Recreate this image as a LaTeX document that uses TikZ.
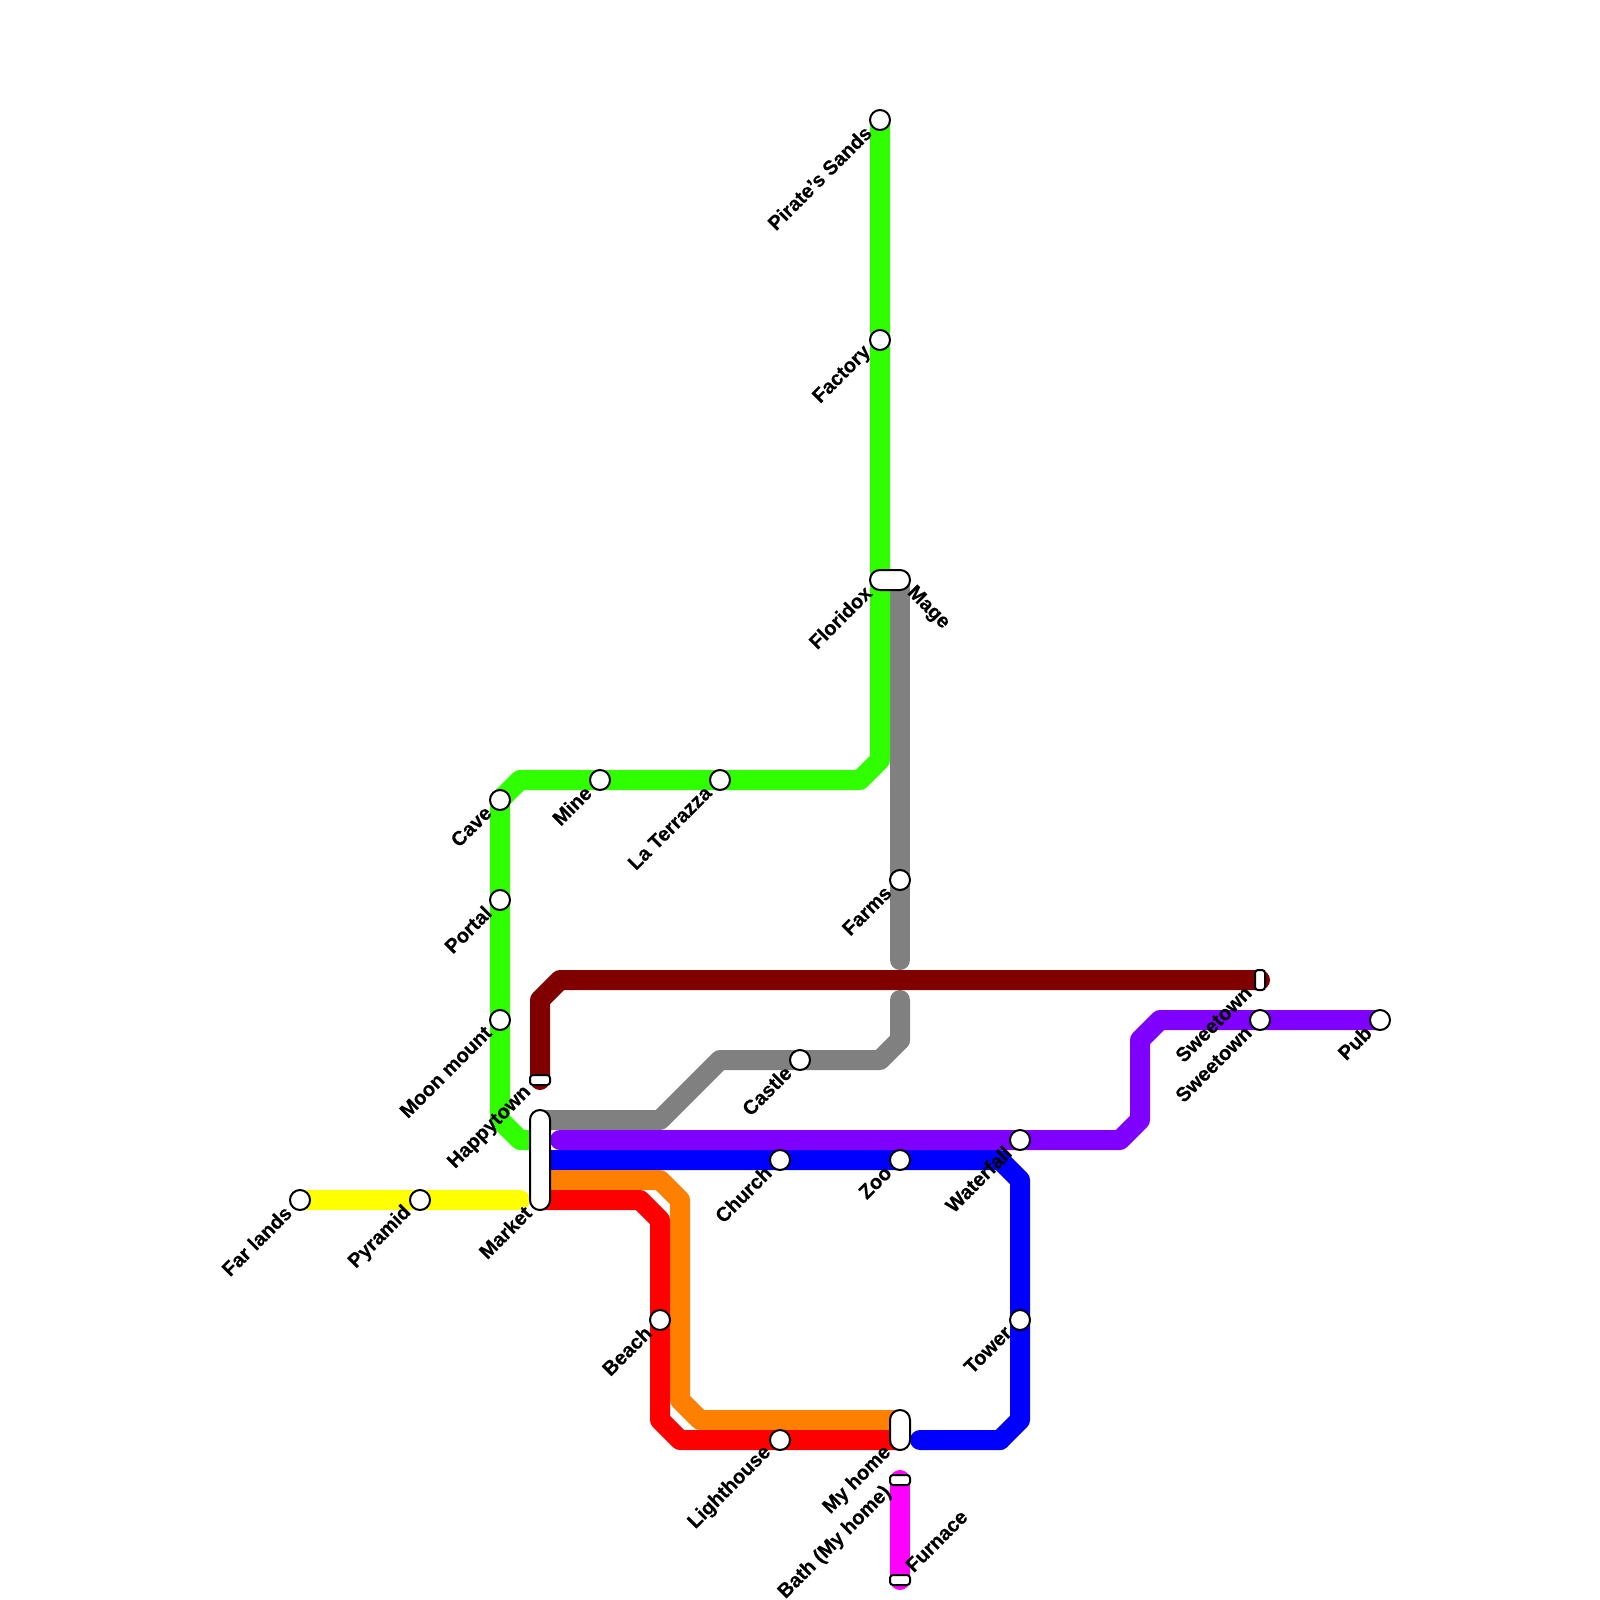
\documentclass[tikz,border=0pt]{standalone}
\usepackage{fontspec}
\setmainfont[BoldFeatures={FakeBold=0.3}]{Liberation Sans}
\definecolor{lgreen}{RGB}{48,255,0}
\definecolor{lyellow}{RGB}{255,255,0}
\definecolor{ldarkred}{RGB}{128,0,0}
\definecolor{lgray}{RGB}{128,128,128}
\definecolor{lpurple}{RGB}{128,0,255}
\definecolor{lblue}{RGB}{0,0,255}
\definecolor{lorange}{RGB}{255,128,0}
\definecolor{lred}{RGB}{255,0,0}
\definecolor{lmagenta}{RGB}{255,0,255}
\tikzset{
  x=1pt,y=-1pt,
  metro/.style={line width=20pt,line join=round,line cap=butt},
  rmetro/.style={metro,line cap=round},
  stn/.style={circle,draw=black,fill=white,line width=2pt,minimum size=20pt,inner sep=0pt,outer sep=0pt},
  box/.style={rectangle,draw=black,fill=white,line width=2pt,inner sep=0pt,outer sep=0pt},
  pill/.style={box,rounded corners=9.9pt},
  thin/.style={box,rounded corners=3pt},
  lab/.style={font=\fontsize{20}{24}\selectfont\bfseries,inner sep=0pt,outer sep=0pt,text=black},
  ll/.style={lab,xshift=-2pt,yshift=0.5pt,rotate=45,anchor=east},
  lr/.style={lab,rotate=-45,anchor=west},
  ur/.style={lab,xshift=-1pt,yshift=1.5pt,rotate=45,anchor=west},
}
\begin{document}
\begin{tikzpicture}
\useasboundingbox (0,0) rectangle (1600,1600);
\fill[white] (0,0) rectangle (1600,1600);
% waypoints
\coordinate (g1) at (880,760); \coordinate (g2) at (860,780); \coordinate (g3) at (520,780);
\coordinate (g4) at (500,800); \coordinate (g5) at (500,1120); \coordinate (g6) at (520,1140);
\coordinate (gy1) at (660,1120); \coordinate (gy2) at (720,1060); \coordinate (gy3) at (880,1060);
\coordinate (gy4) at (900,1040); \coordinate (gyEnd) at (900,1000); \coordinate (gyTopEnd) at (900,960);
\coordinate (dr1) at (540,1000); \coordinate (dr2) at (560,980);
\coordinate (p0) at (560,1140); \coordinate (p1) at (1120,1140); \coordinate (p2) at (1140,1120);
\coordinate (p3) at (1140,1040); \coordinate (p4) at (1160,1020);
\coordinate (b1) at (1000,1160); \coordinate (b2) at (1020,1180); \coordinate (b3) at (1020,1420);
\coordinate (b4) at (1000,1440); \coordinate (bEnd) at (920,1440);
\coordinate (o1) at (660,1180); \coordinate (o2) at (680,1200); \coordinate (o3) at (680,1400); \coordinate (o4) at (700,1420);
\coordinate (r1) at (640,1200); \coordinate (r2) at (660,1220); \coordinate (r3) at (660,1420); \coordinate (r4) at (680,1440);
\coordinate (yEnd) at (520,1200);
\coordinate (floG) at (880,580); \coordinate (floY) at (900,580);
\coordinate (hapT) at (540,1080);
\coordinate (mG) at (540,1140); \coordinate (mY) at (540,1120);
\coordinate (mB) at (540,1160); \coordinate (mO) at (540,1180); \coordinate (mR) at (540,1200);
\coordinate (swT) at (1260,980);
\coordinate (hO) at (900,1420); \coordinate (hR) at (900,1440);
\coordinate (bath) at (900,1480); \coordinate (furn) at (900,1580);
\coordinate (pirateC) at (880,120); \coordinate (farC) at (300,1200); \coordinate (pubC) at (1380,1020);
% lines
\draw[metro,lgray] (mY) -- (gy1) -- (gy2) -- (gy3) -- (gy4) -- (gyEnd);
\draw[rmetro,lgray] (floY) -- (gyTopEnd);
\draw[rmetro,lgray] (gy4) -- (gyEnd);
\draw[metro,lgreen] (pirateC) -- (g1) -- (g2) -- (g3) -- (g4) -- (g5) -- (g6) -- (mG);
\draw[rmetro,lyellow] (farC) -- (yEnd);
\draw[rmetro,ldarkred] (hapT) -- (dr1) -- (dr2) -- (swT);
\draw[metro,lblue] (mB) -- (b1) -- (b2) -- (b3) -- (b4) -- (bEnd);
\draw[rmetro,lblue] (b4) -- (bEnd);
\draw[metro,lorange] (mO) -- (o1) -- (o2) -- (o3) -- (o4) -- (hO);
\draw[metro,lred] (mR) -- (r1) -- (r2) -- (r3) -- (r4) -- (hR);
\draw[rmetro,lpurple] (p0) -- (p1) -- (p2) -- (p3) -- (p4) -- (pubC);
\draw[rmetro,lmagenta] (bath) -- (furn);
% stations
\path
 (880,120) node[stn] (pirate) {}
 (880,340) node[stn] (factory) {}
 (600,780) node[stn] (mine) {}
 (720,780) node[stn] (terrazza) {}
 (500,800) node[stn] (cave) {}
 (500,900) node[stn] (portal) {}
 (500,1020) node[stn] (moon) {}
 (900,880) node[stn] (farms) {}
 (800,1060) node[stn] (castle) {}
 (780,1160) node[stn] (church) {}
 (900,1160) node[stn] (zoo) {}
 (1020,1140) node[stn] (waterfall) {}
 (1260,1020) node[stn] (sweetB) {}
 (1380,1020) node[stn] (pub) {}
 (300,1200) node[stn] (far) {}
 (420,1200) node[stn] (pyramid) {}
 (660,1320) node[stn] (beach) {}
 (1020,1320) node[stn] (tower) {}
 (780,1440) node[stn] (lighthouse) {};
\node[pill,minimum width=40pt,minimum height=20pt] (floridox) at (890,580) {};
\node[pill,minimum width=20pt,minimum height=100pt] (market) at (540,1160) {};
\node[pill,minimum width=20pt,minimum height=40pt] (myhome) at (900,1430) {};
\node[thin,minimum width=20pt,minimum height=10pt] (happy) at (540,1080) {};
\node[thin,minimum width=10pt,minimum height=20pt] (sweetA) at (1260,980) {};
\node[thin,minimum width=20pt,minimum height=10pt] (bathS) at (900,1480) {};
\node[thin,minimum width=20pt,minimum height=10pt] (furnS) at (900,1580) {};
% labels
\node[ll] (tPirate) at (870,130) {Pirate's Sands};
\node[ll] (tFactory) at (870,350) {Factory};
\node[ll] (tFloridox) at (870,590) {Floridox};
\node[lr] (tMage) at (910,590) {Mage};
\node[ll] (tMine) at (590,790) {Mine};
\node[ll] (tTerrazza) at (710,790) {La Terrazza};
\node[ll] (tCave) at (490,810) {Cave};
\node[ll] (tPortal) at (490,910) {Portal};
\node[ll] (tMoon) at (490,1030) {Moon mount};
\node[ll] (tFarms) at (890,890) {Farms};
\node[ll] (tCastle) at (790,1070) {Castle};
\node[ll] (tChurch) at (770,1170) {Church};
\node[ll] (tZoo) at (890,1170) {Zoo};
\node[ll] (tWaterfall) at (1010,1150) {Waterfall};
\node[ll] (tSweetA) at (1250,990) {Sweetown};
\node[ll] (tSweetB) at (1250,1030) {Sweetown};
\node[ll] (tPub) at (1370,1030) {Pub};
\node[ll] (tFar) at (290,1210) {Far lands};
\node[ll] (tPyramid) at (410,1210) {Pyramid};
\node[ll] (tBeach) at (650,1330) {Beach};
\node[ll] (tTower) at (1010,1330) {Tower};
\node[ll] (tLight) at (770,1450) {Lighthouse};
\node[ll] (tHappy) at (530,1090) {Happytown};
\node[ll] (tMarket) at (530,1210) {Market};
\node[ll] (tHome) at (890,1450) {My home};
\node[ll] (tBath) at (890,1490) {Bath (My home)};
\node[ur] (tFurnace) at (910,1570) {Furnace};
\end{tikzpicture}
\end{document}
